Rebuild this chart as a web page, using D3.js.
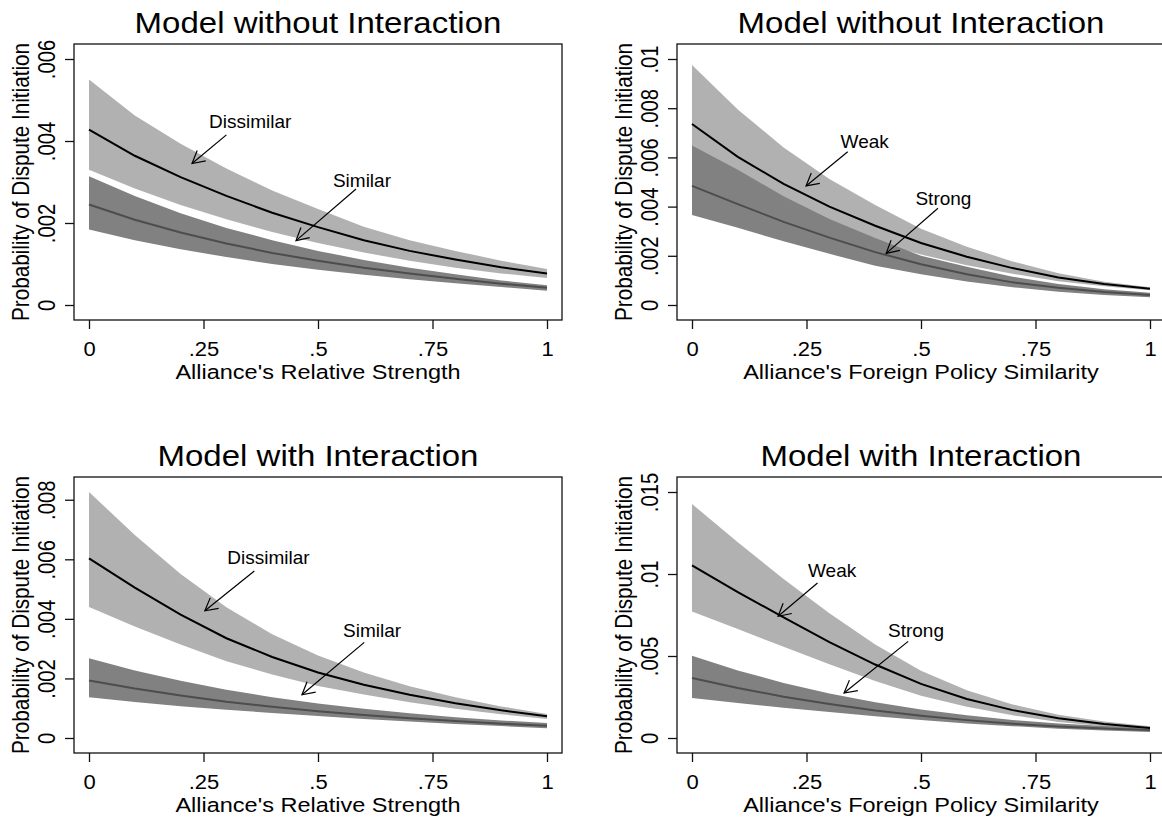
<!DOCTYPE html>
<html>
<head>
<meta charset="utf-8">
<script src="https://cdn.jsdelivr.net/npm/d3@7"></script>
<style>
	body { margin:0; background:#fff; }
	svg text { font-family:"Liberation Sans", Arial, sans-serif; fill:#000; }
</style>
</head>
<body>
<svg id="chart" width="1162" height="821"></svg>
<script>
// ---- data ----
const xGrid = [0, 0.1, 0.2, 0.3, 0.4, 0.5, 0.6, 0.7, 0.8, 0.9, 1];
const xTicks = [0, 0.25, 0.5, 0.75, 1];
const xTickLabels = ['0', '.25', '.5', '.75', '1'];

const panelTitles = ['Model without Interaction', 'Model without Interaction', 'Model with Interaction', 'Model with Interaction'];
const xTitles = ["Alliance's Relative Strength", "Alliance's Foreign Policy Similarity", "Alliance's Relative Strength", "Alliance's Foreign Policy Similarity"];
const yTitle = 'Probability of Dispute Initiation';

// top left: no interaction, relative strength
const tlDisHi   = [.00550, .00462, .00393, .00333, .00279, .00234, .00191, .00158, .00132, .00108, .00088];
const tlDisLine = [.00428, .00364, .00312, .00266, .00225, .00190, .00158, .00132, .00111, .00092, .00077];
const tlDisLo   = [.00330, .00284, .00244, .00209, .00178, .00151, .00128, .00108, .00091, .00077, .00066];
const tlSimHi   = [.00314, .00266, .00224, .00188, .00158, .00132, .00110, .00091, .00075, .00060, .00048];
const tlSimLine = [.00245, .00208, .00177, .00150, .00127, .00108, .00091, .00077, .00064, .00052, .00042];
const tlSimLo   = [.00184, .00158, .00136, .00117, .00100, .00086, .00074, .00063, .00053, .00044, .00035];
const tlYTicks  = [0, .002, .004, .006];
const tlYLabels = ['0', '.002', '.004', '.006'];

// top right: no interaction, foreign policy similarity
const trWeakHi     = [.00976, .00795, .00640, .00512, .00406, .00310, .00237, .00177, .00129, .00095, .00072];
const trWeakLine   = [.00736, .00602, .00492, .00400, .00322, .00252, .00196, .00150, .00112, .00085, .00066];
const trWeakLo     = [.00553, .00456, .00378, .00313, .00256, .00205, .00162, .00127, .00097, .00076, .00060];
const trStrongHi   = [.00648, .00550, .00442, .00350, .00272, .00200, .00155, .00115, .00085, .00064, .00050];
const trStrongLine = [.00484, .00410, .00338, .00274, .00215, .00166, .00125, .00092, .00070, .00053, .00041];
const trStrongLo   = [.00366, .00314, .00259, .00208, .00160, .00125, .00096, .00072, .00054, .00041, .00031];
const trYTicks  = [0, .002, .004, .006, .008, .01];
const trYLabels = ['0', '.002', '.004', '.006', '.008', '.01'];

// bottom left: with interaction, relative strength
const blDisHi   = [.00826, .00682, .00551, .00439, .00348, .00277, .00220, .00174, .00137, .00106, .00081];
const blDisLine = [.00603, .00505, .00414, .00335, .00272, .00220, .00179, .00145, .00117, .00093, .00073];
const blDisLo   = [.00440, .00374, .00314, .00258, .00213, .00175, .00146, .00120, .00098, .00080, .00064];
const blSimHi   = [.00268, .00227, .00192, .00162, .00137, .00116, .00098, .00083, .00070, .00059, .00050];
const blSimLine = [.00193, .00166, .00143, .00122, .00105, .00090, .00077, .00066, .00057, .00048, .00041];
const blSimLo   = [.00137, .00121, .00107, .00095, .00084, .00074, .00064, .00055, .00047, .00040, .00033];
const blYTicks  = [0, .002, .004, .006, .008];
const blYLabels = ['0', '.002', '.004', '.006', '.008'];

// bottom right: with interaction, foreign policy similarity
const brWeakHi     = [.01427, .01193, .00970, .00761, .00570, .00410, .00291, .00205, .00142, .00100, .00071];
const brWeakLine   = [.01053, .00890, .00735, .00585, .00448, .00330, .00238, .00170, .00120, .00086, .00061];
const brWeakLo     = [.00772, .00664, .00557, .00450, .00348, .00258, .00190, .00138, .00098, .00072, .00053];
const brStrongHi   = [.00502, .00412, .00336, .00272, .00218, .00174, .00138, .00110, .00088, .00073, .00062];
const brStrongLine = [.00366, .00305, .00252, .00207, .00168, .00136, .00109, .00087, .00070, .00058, .00049];
const brStrongLo   = [.00244, .00213, .00184, .00158, .00133, .00110, .00089, .00072, .00057, .00045, .00036];
const brYTicks  = [0, .005, .01, .015];
const brYLabels = ['0', '.005', '.01', '.015'];

// text labels with arrows: label at (lx,ly), arrow from (fx,fy) to (tx,ty)
const tlNotes = [
	{text:'Dissimilar', lx:.352, ly:.00447, fx:.300, fy:.00415, tx:.225, ty:.00345},
	{text:'Similar',    lx:.596, ly:.00303, fx:.583, fy:.00283, tx:.452, ty:.00157}
];
const trNotes = [
	{text:'Weak',   lx:.377, ly:.00664, fx:.340, fy:.00623, tx:.249, ty:.00484},
	{text:'Strong', lx:.549, ly:.00434, fx:.537, fy:.00393, tx:.424, ty:.00210}
];
const blNotes = [
	{text:'Dissimilar', lx:.392, ly:.00608, fx:.361, fy:.00561, tx:.253, ty:.00427},
	{text:'Similar',    lx:.618, ly:.00363, fx:.601, fy:.00321, tx:.465, ty:.00145}
];
const brNotes = [
	{text:'Weak',   lx:.306, ly:.0102, fx:.274, fy:.00945, tx:.188, ty:.00742},
	{text:'Strong', lx:.489, ly:.00656, fx:.472, fy:.00589, tx:.332, ty:.00274}
];

// ---- layout ----
const panels = [
	{ox:0,   oy:0,   title:panelTitles[0], xTitle:xTitles[0], yTicks:tlYTicks, yLabels:tlYLabels,
		light:[tlDisLo, tlDisLine, tlDisHi], dark:[tlSimLo, tlSimLine, tlSimHi], notes:tlNotes},
	{ox:603, oy:0,   title:panelTitles[1], xTitle:xTitles[1], yTicks:trYTicks, yLabels:trYLabels,
		light:[trWeakLo, trWeakLine, trWeakHi], dark:[trStrongLo, trStrongLine, trStrongHi], notes:trNotes},
	{ox:0,   oy:433, title:panelTitles[2], xTitle:xTitles[2], yTicks:blYTicks, yLabels:blYLabels,
		light:[blDisLo, blDisLine, blDisHi], dark:[blSimLo, blSimLine, blSimHi], notes:blNotes},
	{ox:603, oy:433, title:panelTitles[3], xTitle:xTitles[3], yTicks:brYTicks, yLabels:brYLabels,
		light:[brWeakLo, brWeakLine, brWeakHi], dark:[brStrongLo, brStrongLine, brStrongHi], notes:brNotes}
];

const box = {left:74, right:562, top:44, bottom:320};
const pad = 15;
const SQ = 0.88;   // the source picture is a little squashed vertically
const LIGHT = '#b1b1b1', DARK = '#818181', DARKLINE = '#4d4d4d';

const svg = d3.select('#chart');

function label(g, x, y, str, size, turned) {
	return g.append('text')
		.attr('transform', `translate(${x},${y}) scale(1,${SQ})` + (turned ? ' rotate(-90)' : ''))
		.attr('text-anchor', 'middle')
		.attr('font-size', size)
		.text(str);
}

panels.forEach(p => {
	const g = svg.append('g').attr('transform', `translate(${p.ox},${p.oy})`);

	const x = d3.scaleLinear().domain([0, 1]).range([box.left + pad, box.right - pad]);
	const yMax = Math.max(d3.max(p.light[2]), d3.max(p.dark[2]), d3.max(p.yTicks));
	const y = d3.scaleLinear().domain([0, yMax]).range([box.bottom - pad, box.top + pad]);

	const band = (lo, hi) => xGrid.map((v, i) => ({x:v, lo:lo[i], hi:hi[i]}));
	const area = d3.area().x(d => x(d.x)).y0(d => y(d.lo)).y1(d => y(d.hi));
	const line = d3.line().x((d, i) => x(xGrid[i])).y(d => y(d));

	// bands first, then the lines over them
	g.append('path').attr('d', area(band(p.light[0], p.light[2]))).attr('fill', LIGHT);
	g.append('path').attr('d', area(band(p.dark[0], p.dark[2]))).attr('fill', DARK);
	g.append('path').attr('d', line(p.light[1]))
		.attr('fill', 'none').attr('stroke', '#000').attr('stroke-width', 2);
	g.append('path').attr('d', line(p.dark[1]))
		.attr('fill', 'none').attr('stroke', DARKLINE).attr('stroke-width', 2);

	// frame
	g.append('rect')
		.attr('x', box.left).attr('y', box.top)
		.attr('width', box.right - box.left).attr('height', box.bottom - box.top)
		.attr('fill', 'none').attr('stroke', '#111').attr('stroke-width', 1.3);

	// x axis
	const gx = g.append('g').attr('transform', `translate(0,${box.bottom})`)
		.call(d3.axisBottom(x).tickValues(xTicks).tickFormat((d, i) => xTickLabels[i]).tickSize(9));
	gx.select('.domain').remove();
	gx.selectAll('line').attr('stroke', '#111').attr('stroke-width', 1.3);
	gx.selectAll('text')
		.attr('y', null).attr('dy', null)
		.attr('transform', `translate(0,36) scale(1,${SQ})`)
		.attr('font-size', 22).attr('fill', '#000');

	// y axis, labels turned on their side
	const gy = g.append('g').attr('transform', `translate(${box.left},0)`)
		.call(d3.axisLeft(y).tickValues(p.yTicks).tickFormat((d, i) => p.yLabels[i]).tickSize(9));
	gy.select('.domain').remove();
	gy.selectAll('line').attr('stroke', '#111').attr('stroke-width', 1.3);
	gy.selectAll('text')
		.attr('x', null).attr('dy', null)
		.attr('text-anchor', 'middle')
		.attr('transform', `translate(-19,0) scale(1,${SQ}) rotate(-90)`)
		.attr('font-size', 23).attr('fill', '#000');

	// titles
	const cx = (box.left + box.right) / 2;
	label(g, cx, 33, p.title, 33);
	label(g, cx, 379, p.xTitle, 23.5);
	label(g, 28.5, (box.top + box.bottom) / 2, yTitle, 23.5, true);

	// labels and arrows
	p.notes.forEach(n => {
		const x1 = x(n.fx), y1 = y(n.fy), x2 = x(n.tx), y2 = y(n.ty);
		const ang = Math.atan2(y1 - y2, x1 - x2);
		const len = 14, spread = 0.5;
		g.append('line')
			.attr('x1', x1).attr('y1', y1).attr('x2', x2).attr('y2', y2)
			.attr('stroke', '#000').attr('stroke-width', 1.2);
		g.append('path')
			.attr('d', `M${x2 + len * Math.cos(ang + spread)},${y2 + len * Math.sin(ang + spread)}` +
				`L${x2},${y2}` +
				`L${x2 + len * Math.cos(ang - spread)},${y2 + len * Math.sin(ang - spread)}`)
			.attr('fill', 'none').attr('stroke', '#000').attr('stroke-width', 1.2);
		g.append('text')
			.attr('x', x(n.lx)).attr('y', y(n.ly)).attr('dy', '0.35em')
			.attr('text-anchor', 'middle').attr('font-size', 19).text(n.text);
	});
});
</script>
</body>
</html>
